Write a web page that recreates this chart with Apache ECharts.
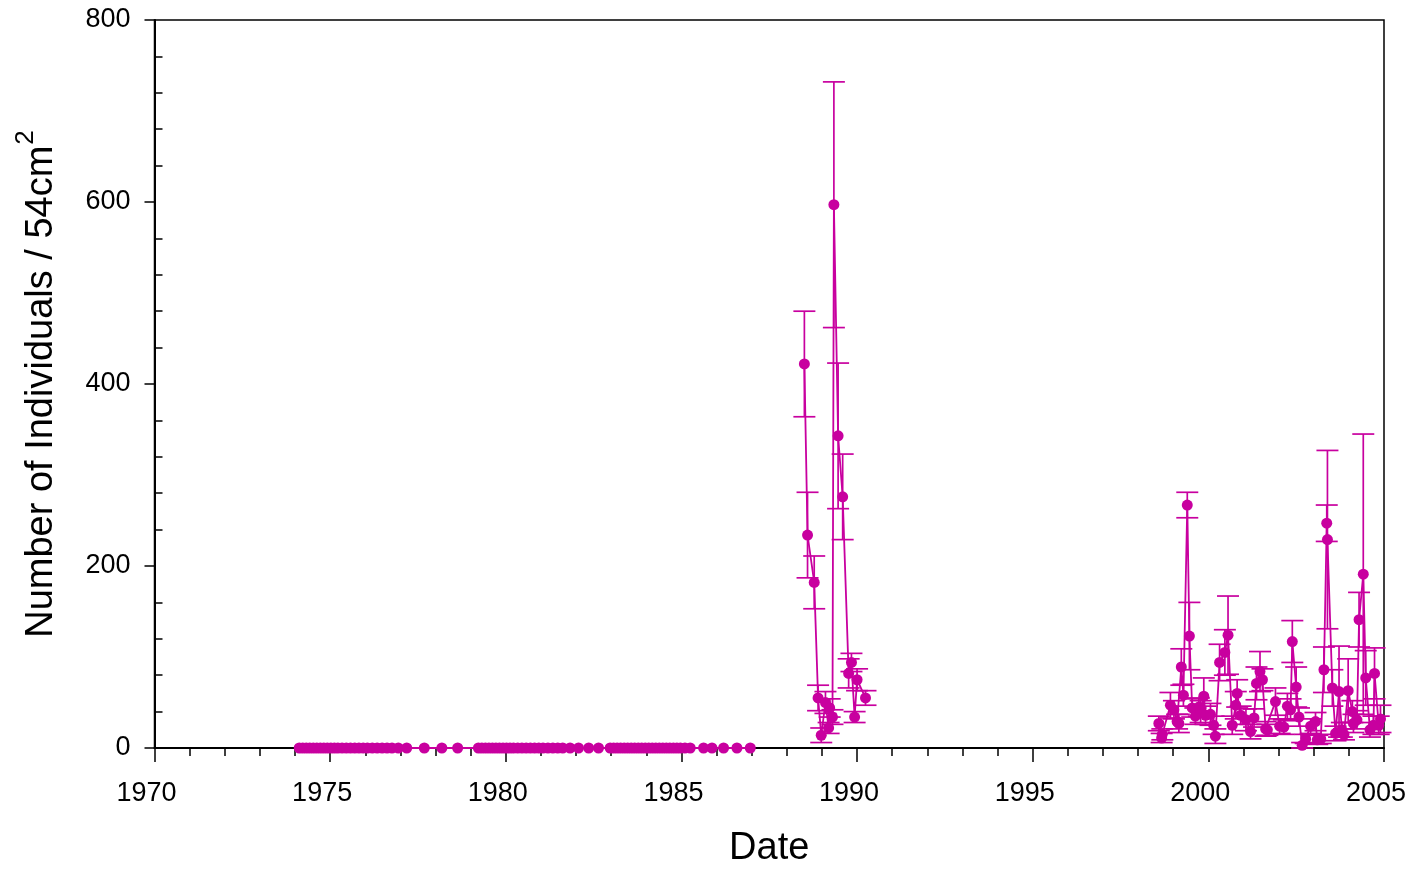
<!DOCTYPE html>
<html>
<head>
<meta charset="utf-8">
<script src="https://cdn.jsdelivr.net/npm/echarts@6/dist/echarts.min.js"></script>
<style>html,body{margin:0;padding:0;background:#fff;}#c{width:1416px;height:869px;}</style>
</head>
<body>
<div id="c"></div>
<script>
// ---- Data ----
// Period 1: all samples zero
const zeroDates = [1974.12,1974.22,1974.32,1974.42,1974.52,1974.62,1974.72,1974.82,1974.92,1975.02,1975.12,1975.22,1975.34,1975.46,1975.58,1975.7,1975.82,1975.94,1976.06,1976.2,1976.34,1976.48,1976.62,1976.76,1976.94,1977.18,
  1977.68,1978.18,1978.63,
  1979.22,1979.32,1979.42,1979.52,1979.62,1979.72,1979.82,1979.92,1980.02,1980.12,1980.22,1980.34,1980.46,1980.58,1980.7,1980.82,1980.94,1981.06,1981.2,1981.34,1981.48,1981.62,1981.83,1982.07,1982.36,1982.64,
  1982.97,1983.07,1983.17,1983.27,1983.37,1983.47,1983.57,1983.67,1983.77,1983.87,1983.97,1984.07,1984.17,1984.27,1984.37,1984.47,1984.57,1984.67,1984.77,1984.87,1984.97,1985.1,1985.25,1985.63,1985.87,1986.2,1986.58,1986.96];
const zeroCounts = [0,0,0,0,0,0,0,0,0,0,0,0,0,0,0,0,0,0,0,0,0,0,0,0,0,0,
  0,0,0,
  0,0,0,0,0,0,0,0,0,0,0,0,0,0,0,0,0,0,0,0,0,0,0,0,0,0,
  0,0,0,0,0,0,0,0,0,0,0,0,0,0,0,0,0,0,0,0,0,0,0,0,0,0,0,0];

// Period 2: 1988-1990 outbreak
const p2Dates  = [1988.50,1988.59,1988.78,1988.89,1988.98,1989.10,1989.19,1989.22,1989.30,1989.34,1989.46,1989.59,1989.76,1989.84,1989.93,1990.00,1990.24];
const p2Counts = [422,234,182,55,14,50,22,44,34,597,343,276,82,94,34,75,55];
const p2Errors = [58,47,29,14,8,12,6,10,8,135,80,47,16,10,6,12,8];

// Period 3: 1998-2005
const p3Dates  = [1998.59,1998.67,1998.69,1998.92,1999.02,1999.11,1999.16,1999.23,1999.29,1999.40,1999.46,1999.54,1999.63,1999.73,1999.78,1999.87,1999.92,
  2000.06,2000.15,2000.20,2000.32,2000.47,2000.56,2000.68,2000.78,2000.82,2000.92,
  2001.07,2001.20,2001.30,2001.37,2001.47,2001.54,2001.63,2001.68,2001.91,
  2002.03,2002.15,2002.25,2002.34,2002.39,2002.50,2002.58,2002.67,2002.77,2002.91,
  2003.05,2003.10,2003.20,2003.29,2003.37,2003.39,2003.53,2003.62,2003.72,2003.80,2003.86,2003.98,
  2004.10,2004.13,2004.23,2004.29,2004.41,2004.48,2004.60,2004.70,2004.73,2004.85,2004.90];
const p3Counts = [27,11,15,47,42,29,27,89,58,267,123,44,35,45,40,57,36,
  37,25,13,94,105,124,25,47,60,36,
  31,18,33,71,84,75,21,20,51,
  24,23,46,42,117,67,34,3,10,24,
  29,9,10,86,247,229,66,16,62,20,15,63,
  40,27,31,141,191,77,20,25,82,25,32];
const p3Errors = [8,5,6,14,10,8,10,20,12,14,37,10,9,10,12,20,10,
  12,10,8,20,25,43,10,15,15,10,
  12,8,10,18,22,12,8,6,15,
  8,8,14,12,23,22,10,3,5,8,
  10,5,5,25,20,98,20,8,50,8,6,35,
  12,10,10,30,154,30,8,10,28,10,15];

// Axis ticks
const xTicks = [1970,1975,1980,1985,1990,1995,2000,2005];
const yTicks = [0,200,400,600,800];

// ---- Build chart ----
const COLOR = '#c8009f';
const FONT = 'Liberation Sans, Arial, sans-serif';

function pairs(d, v) { return d.map((x, i) => [x, v[i]]); }
function errs(d, v, e) { return d.map((x, i) => [x, Math.max(0, v[i] - e[i]), v[i] + e[i]]); }

function renderErr(params, api) {
  const x = api.value(0);
  const lo = api.coord([x, api.value(1)]);
  const hi = api.coord([x, api.value(2)]);
  const w = 11;
  const st = { stroke: COLOR, lineWidth: 1.7 };
  return {
    type: 'group',
    children: [
      { type: 'line', shape: { x1: hi[0], y1: hi[1], x2: lo[0], y2: lo[1] }, style: st },
      { type: 'line', shape: { x1: hi[0] - w, y1: hi[1], x2: hi[0] + w, y2: hi[1] }, style: st },
      { type: 'line', shape: { x1: lo[0] - w, y1: lo[1], x2: lo[0] + w, y2: lo[1] }, style: st }
    ]
  };
}

function lineSeries(data) {
  return {
    type: 'line', data: data, symbol: 'circle', symbolSize: 11,
    itemStyle: { color: COLOR }, lineStyle: { color: COLOR, width: 1.8 },
    z: 5, animation: false, clip: false
  };
}

const chart = echarts.init(document.getElementById('c'), null, { renderer: 'canvas' });
chart.setOption({
  animation: false,
  backgroundColor: '#fff',
  grid: { left: 154.5, right: 32, top: 20, bottom: 121, containLabel: false, outerBoundsMode: 'none',
          show: true, borderColor: '#000', borderWidth: 1.5, backgroundColor: 'transparent' },
  xAxis: {
    type: 'value', min: xTicks[0], max: xTicks[xTicks.length - 1], interval: 5,
    name: 'Date', nameLocation: 'middle', nameGap: 82,
    nameTextStyle: { fontFamily: FONT, fontSize: 38, color: '#000' },
    axisLine: { lineStyle: { color: '#000', width: 2 } },
    axisTick: { length: 14, lineStyle: { color: '#000', width: 1.5 } },
    minorTick: { show: true, splitNumber: 5, length: 8, lineStyle: { color: '#000', width: 1.5 } },
    splitLine: { show: false },
    axisLabel: { fontFamily: FONT, fontSize: 27, color: '#000', margin: 32, padding: [0, 16, 0, 0], formatter: v => String(v) }
  },
  yAxis: [{
    type: 'value', min: yTicks[0], max: yTicks[yTicks.length - 1], interval: 200,
    name: '{a|Number of Individuals / 54cm}{s|2}', nameLocation: 'middle', nameGap: 94,
    nameTextStyle: {
      fontFamily: FONT, color: '#000',
      rich: {
        a: { fontFamily: FONT, fontSize: 38, color: '#000', lineHeight: 46, verticalAlign: 'bottom' },
        s: { fontFamily: FONT, fontSize: 26, color: '#000', lineHeight: 46, verticalAlign: 'bottom', padding: [0, 0, 22, 1] }
      }
    },
    axisLine: { lineStyle: { color: '#000', width: 2 } },
    axisTick: { length: 10, lineStyle: { color: '#000', width: 1.5 } },
    splitLine: { show: false },
    axisLabel: { fontFamily: FONT, fontSize: 27, color: '#000', margin: 24 }
  }, {
    type: 'value', min: yTicks[0], max: yTicks[yTicks.length - 1], interval: 200, position: 'left', offset: 0,
    axisLine: { show: false },
    axisTick: { show: false, inside: true },
    minorTick: { show: true, splitNumber: 5, length: 8, lineStyle: { color: '#000', width: 1.5 } },
    axisLabel: { show: false }, splitLine: { show: false }
  }],
  series: [
    { type: 'custom', renderItem: renderErr, data: errs(p2Dates, p2Counts, p2Errors), encode: { x: 0, y: [1, 2] }, z: 3, clip: false },
    { type: 'custom', renderItem: renderErr, data: errs(p3Dates, p3Counts, p3Errors), encode: { x: 0, y: [1, 2] }, z: 3, clip: false },
    lineSeries(pairs(zeroDates, zeroCounts)),
    lineSeries(pairs(p2Dates, p2Counts)),
    lineSeries(pairs(p3Dates, p3Counts))
  ]
});
</script>
</body>
</html>
